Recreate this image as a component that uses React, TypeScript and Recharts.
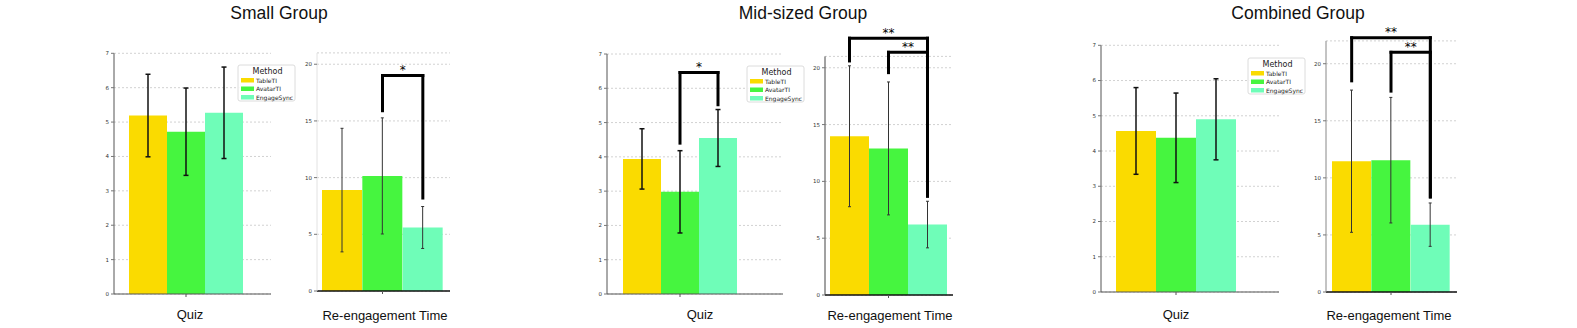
import React from 'react';
import { BarChart, Bar, Cell, XAxis, YAxis, CartesianGrid, ErrorBar, ReferenceLine } from 'recharts';

// ---------- data ----------
const methods = ['TableTI', 'AvatarTI', 'EngageSync'];
const methodColors = ['#FADB00', '#46F53F', '#6FFDB8'];
const groupTitles = ['Small Group', 'Mid-sized Group', 'Combined Group'];
const measureLabels = ['Quiz', 'Re-engagement Time'];
const quizTicks = [0, 1, 2, 3, 4, 5, 6, 7];
const reTicks = [0, 5, 10, 15, 20];

const smallQuizMean = [5.19, 4.72, 5.27];
const smallQuizSd = [1.2, 1.27, 1.33];
const smallReMean = [8.9, 10.15, 5.6];
const smallReSd = [5.45, 5.12, 1.85];

const midQuizMean = [3.94, 2.98, 4.55];
const midQuizSd = [0.88, 1.2, 0.83];
const midReMean = [13.97, 12.9, 6.2];
const midReSd = [6.2, 5.85, 2.05];

const combQuizMean = [4.57, 4.375, 4.9];
const combQuizSd = [1.23, 1.27, 1.15];
const combReMean = [11.46, 11.55, 5.9];
const combReSd = [6.23, 5.5, 1.9];

// significance brackets: [fromIndex, toIndex, topY, fromEndY, toEndY, label]
type Bracket = [number, number, number, number, number, string];
const smallReBrackets: Bracket[] = [[1, 2, 19.0, 15.9, 8.2, '*']];
const midQuizBrackets: Bracket[] = [[1, 2, 6.46, 4.4, 5.52, '*']];
const midReBrackets: Bracket[] = [
  [0, 2, 22.6, 20.6, 8.7, '**'],
  [1, 2, 21.36, 19.57, 8.7, '**'],
];
const combReBrackets: Bracket[] = [
  [0, 2, 22.28, 18.5, 8.33, '**'],
  [1, 2, 21.0, 17.6, 8.33, '**'],
];

const build = (mean: number[], sd: number[]) =>
  methods.map((m, i) => ({ name: m, value: mean[i], err: sd[i] }));

// ---------- layout ----------
type PanelCfg = {
  data: { name: string; value: number; err: number }[];
  plotLeft: number;
  plotRight: number;
  yTop: number;
  y0: number;
  domainMax: number;
  ticks: number[];
  padL: number;
  padR: number;
  brackets: Bracket[];
  quiz: boolean;
  leftSpine: string;
};

const CenterTick = (props: any) => {
  const { x, y, payload } = props;
  if (payload.value !== 'AvatarTI') return <g />;
  return <line x1={x} x2={x} y1={y} y2={y + 3} stroke="#555" strokeWidth={1} />;
};

const StarLabel = (props: any) => {
  const vb = props.viewBox || {};
  const x = (vb.x ?? 0) + (vb.width ?? 0) / 2;
  const y = vb.y ?? 0;
  return (
    <text x={x} y={y - 1.5} fontSize={12} textAnchor="middle" fill="#000" stroke="none" fontFamily="DejaVu Sans">
      {props.value}
    </text>
  );
};

const Panel = ({ cfg }: { cfg: PanelCfg }) => {
  const yAxisW = 30;
  const chartTop = 20;
  const plotW = cfg.plotRight - cfg.plotLeft;
  const width = Math.round(yAxisW + plotW + 10);
  const height = cfg.y0 + 2;
  const marginTop = cfg.yTop - chartTop;
  const isQuiz = cfg.quiz;
  return (
    <div style={{ position: 'absolute', left: cfg.plotLeft - yAxisW, top: chartTop }}>
      <BarChart
        width={width}
        height={height}
        data={cfg.data}
        margin={{ top: marginTop, right: width - yAxisW - plotW, bottom: 2, left: 0 }}
        barCategoryGap={0}
        barGap={0}
      >
        <CartesianGrid horizontal vertical={false} stroke="#d2d2d2" strokeDasharray="2 2" />
        <XAxis
          dataKey="name"
          type="category"
          height={20}
          padding={{ left: cfg.padL, right: cfg.padR }}
          axisLine={{ stroke: isQuiz ? '#555' : '#111', strokeWidth: isQuiz ? 1.2 : 1.5 }}
          tickLine={false}
          tickSize={0}
          tickMargin={0}
          tick={<CenterTick />}
          interval={0}
        />
        <YAxis
          width={yAxisW}
          type="number"
          domain={[0, cfg.domainMax]}
          ticks={cfg.ticks}
          allowDataOverflow
          axisLine={{ stroke: cfg.leftSpine, strokeWidth: 1 }}
          tickLine={{ stroke: '#777' }}
          tickSize={3}
          tickMargin={2}
          tick={{ fontSize: 5.5, fill: '#333', fontFamily: 'DejaVu Sans' }}
        />
        <Bar dataKey="value" isAnimationActive={false}>
          {cfg.data.map((d, i) => (
            <Cell key={d.name} fill={methodColors[i]} />
          ))}
          <ErrorBar
            dataKey="err"
            direction="y"
            width={isQuiz ? 2.5 : 1.5}
            stroke={isQuiz ? '#111' : '#333'}
            strokeWidth={isQuiz ? 1.5 : 1}
            isAnimationActive={false}
          />
        </Bar>
        {cfg.brackets.map((b, k) => {
          const a = methods[b[0]];
          const c = methods[b[1]];
          return (
            <React.Fragment key={k}>
              <ReferenceLine
                segment={[{ x: a, y: b[3] }, { x: a, y: b[2] }]}
                stroke="#000"
                strokeWidth={3}
                strokeLinecap="square"
                ifOverflow="visible"
              />
              <ReferenceLine
                segment={[{ x: c, y: b[4] }, { x: c, y: b[2] }]}
                stroke="#000"
                strokeWidth={3}
                strokeLinecap="square"
                ifOverflow="visible"
              />
              <ReferenceLine
                segment={[{ x: a, y: b[2] }, { x: c, y: b[2] }]}
                stroke="#000"
                strokeWidth={3}
                strokeLinecap="square"
                ifOverflow="visible"
                label={<StarLabel value={b[5]} />}
              />
            </React.Fragment>
          );
        })}
      </BarChart>
    </div>
  );
};

const panels: PanelCfg[] = [
  { data: build(smallQuizMean, smallQuizSd), plotLeft: 114, plotRight: 271, yTop: 53.3, y0: 294, domainMax: 7, ticks: quizTicks, padL: 15, padR: 28, brackets: [], quiz: true, leftSpine: '#555' },
  { data: build(smallReMean, smallReSd), plotLeft: 317, plotRight: 450, yTop: 52.9, y0: 291, domainMax: 21, ticks: reTicks, padL: 5, padR: 7, brackets: smallReBrackets, quiz: false, leftSpine: '#e2e2e2' },
  { data: build(midQuizMean, midQuizSd), plotLeft: 607, plotRight: 783, yTop: 54, y0: 294, domainMax: 7, ticks: quizTicks, padL: 16, padR: 46, brackets: midQuizBrackets, quiz: true, leftSpine: '#555' },
  { data: build(midReMean, midReSd), plotLeft: 825, plotRight: 953, yTop: 56.4, y0: 295, domainMax: 21, ticks: reTicks, padL: 5, padR: 6, brackets: midReBrackets, quiz: false, leftSpine: '#444' },
  { data: build(combQuizMean, combQuizSd), plotLeft: 1101, plotRight: 1279, yTop: 45.3, y0: 292, domainMax: 7, ticks: quizTicks, padL: 15, padR: 43, brackets: [], quiz: true, leftSpine: '#555' },
  { data: build(combReMean, combReSd), plotLeft: 1326, plotRight: 1457, yTop: 40.9, y0: 292, domainMax: 22, ticks: reTicks, padL: 6, padR: 7, brackets: combReBrackets, quiz: false, leftSpine: '#888' },
];

const titleX = [279, 803, 1298];
const quizLabelX = [190, 700, 1176];
const reLabelX = [385, 890, 1389];
const legendBoxes = [
  { x: 238, y: 65 },
  { x: 747, y: 66 },
  { x: 1248, y: 58 },
];

const Legend = ({ x, y }: { x: number; y: number }) => {
  const w = 57;
  const h = 36;
  return (
    <g>
      <rect x={x} y={y} width={w} height={h} rx={2} fill="#fff" fillOpacity={0.85} stroke="#dcdcdc" strokeWidth={1} />
      <text x={x + w / 2 + 1} y={y + 9} fontSize={8} textAnchor="middle" fill="#222" fontFamily="DejaVu Sans">
        Method
      </text>
      {methods.map((m, i) => (
        <g key={m}>
          <rect x={x + 3} y={y + 13 + i * 8.5} width={13} height={4.5} fill={methodColors[i]} />
          <text x={x + 18} y={y + 17.5 + i * 8.5} fontSize={6} fill="#222" fontFamily="DejaVu Sans">
            {m}
          </text>
        </g>
      ))}
    </g>
  );
};

export default function App() {
  return (
    <div style={{ position: 'absolute', left: 0, top: 0, width: 1577, height: 328, background: '#fff', overflow: 'hidden' }}>
      {panels.map((p, i) => (
        <Panel key={i} cfg={p} />
      ))}
      <svg width={1577} height={328} style={{ position: 'absolute', left: 0, top: 0, pointerEvents: 'none' }}>
        {groupTitles.map((t, i) => (
          <text key={t} x={titleX[i]} y={19} fontSize={17.5} textAnchor="middle" fill="#111" fontFamily="Liberation Sans, Arial, sans-serif">
            {t}
          </text>
        ))}
        {quizLabelX.map((x, i) => (
          <text key={'q' + i} x={x} y={319} fontSize={13} textAnchor="middle" fill="#111" fontFamily="Liberation Sans, Arial, sans-serif">
            {measureLabels[0]}
          </text>
        ))}
        {reLabelX.map((x, i) => (
          <text key={'r' + i} x={x} y={320} fontSize={13} textAnchor="middle" fill="#111" fontFamily="Liberation Sans, Arial, sans-serif">
            {measureLabels[1]}
          </text>
        ))}
        {legendBoxes.map((b, i) => (
          <Legend key={i} x={b.x} y={b.y} />
        ))}
      </svg>
    </div>
  );
}
